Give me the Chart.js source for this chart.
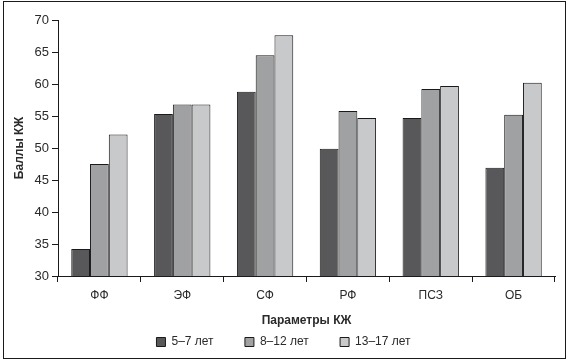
<!DOCTYPE html>
<html>
<head>
<meta charset="utf-8">
<script src="https://cdn.jsdelivr.net/npm/chart.js@4"></script>
<style>
  body { margin: 0; background: #fff; }
  #wrap { position: relative; width: 570px; height: 364px; }
  #frame { position: absolute; left: 3px; top: 1px; width: 561px; height: 356px; border: 1.5px solid #1a1a1a; pointer-events: none; }
</style>
</head>
<body>
<div id="wrap">
  <canvas id="chart" width="570" height="364"></canvas>
  <div id="frame"></div>
</div>
<script>
const categories = ['ФФ', 'ЭФ', 'СФ', 'РФ', 'ПСЗ', 'ОБ'];
const age5to7 = [34.2, 55.3, 58.8, 49.9, 54.7, 46.9];
const age8to12 = [47.5, 56.8, 64.5, 55.8, 59.2, 55.2];
const age13to17 = [52.1, 56.8, 67.6, 54.7, 59.7, 60.2];
const yTicks = [30, 35, 40, 45, 50, 55, 60, 65, 70];

const font = 'Liberation Sans, Arial, sans-serif';
const ink = '#2a2a2a';

function bars(label, data, color) {
  return {
    label: label,
    data: data,
    backgroundColor: color,
    borderColor: '#1a1a1a',
    borderWidth: 1,
    borderSkipped: 'bottom',
    categoryPercentage: 0.68,
    barPercentage: 1
  };
}

new Chart(document.getElementById('chart'), {
  type: 'bar',
  data: {
    labels: categories,
    datasets: [
      bars('5–7 лет', age5to7, '#58585a'),
      bars('8–12 лет', age8to12, '#a0a1a3'),
      bars('13–17 лет', age13to17, '#c8c9cb')
    ]
  },
  options: {
    responsive: false,
    animation: false,
    layout: { padding: { left: 12, right: 15, top: 20, bottom: 6 } },
    plugins: {
      tooltip: { enabled: false },
      legend: {
        position: 'bottom',
        labels: {
          color: ink,
          font: { family: font, size: 12 },
          boxWidth: 9,
          boxHeight: 9,
          padding: 8,
          // wider gaps between legend items, as in the original
          generateLabels: function (chart) {
            const items = Chart.defaults.plugins.legend.labels.generateLabels(chart);
            items.forEach((it, i) => {
              it.strokeStyle = '#1a1a1a';
              if (i < items.length - 1) it.text = it.text + '       ';
            });
            return items;
          }
        }
      }
    },
    scales: {
      x: {
        grid: { drawOnChartArea: false, drawTicks: true, tickLength: 6, color: '#1a1a1a' },
        border: { display: true, color: '#1a1a1a', width: 1 },
        ticks: { color: ink, font: { family: font, size: 12 }, padding: 6 },
        title: { display: true, text: 'Параметры КЖ', color: ink, font: { family: font, size: 12, weight: 'bold' }, padding: { top: 9, bottom: 0 } },
        afterFit: function (scale) { scale.height = 52; }
      },
      y: {
        min: 30,
        max: 70,
        afterBuildTicks: function (scale) { scale.ticks = yTicks.map(v => ({ value: v })); },
        grid: { drawOnChartArea: false, drawTicks: true, tickLength: 6, color: '#1a1a1a' },
        border: { display: true, color: '#1a1a1a', width: 1 },
        ticks: { color: ink, font: { family: font, size: 13 }, padding: 3 },
        title: { display: true, text: 'Баллы КЖ', color: ink, font: { family: font, size: 12, weight: 'bold' }, padding: { top: 0, bottom: 6 } },
        afterFit: function (scale) { scale.width = 46; }
      }
    }
  }
});
</script>
</body>
</html>
